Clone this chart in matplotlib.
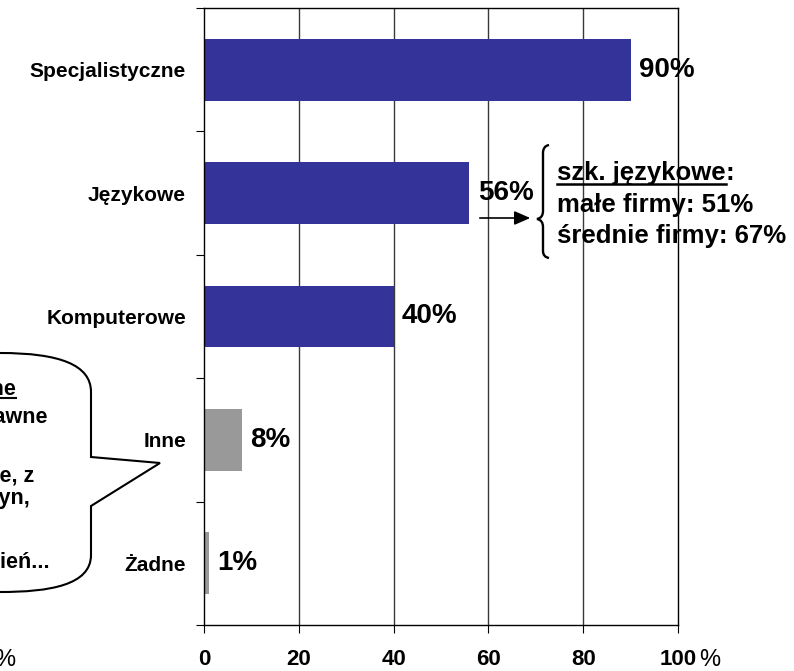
import matplotlib
matplotlib.use("Agg")
import matplotlib.pyplot as plt
from matplotlib.path import Path
from matplotlib.patches import PathPatch, FancyArrowPatch
from matplotlib.lines import Line2D

plt.rcParams['font.family'] = ['Liberation Sans', 'DejaVu Sans']

categories = ['Specjalistyczne', 'Językowe', 'Komputerowe', 'Inne', 'Żadne']
values = [90, 56, 40, 8, 1]
xticks = [0, 20, 40, 60, 80, 100]
note_title = 'szk. językowe'
note_lines = ['małe firmy: 51%', 'średnie firmy: 67%']
callout_lines = ['Szkolenia inne', 'prawne', 'BHP, księgowe, z', 'obsługi maszyn,', 'uzyskanie uprawnień...']

bar_colors = ['#333399', '#333399', '#333399', '#999999', '#999999']

W, H = 794, 671
fig = plt.figure(figsize=(W / 100, H / 100), dpi=100)
L, R, T, B = 204, 678, 8, 625
ax = fig.add_axes([L / W, 1 - B / H, (R - L) / W, (B - T) / H])

def fp(x, y):
    return (x / W, 1 - y / H)

ypos = list(range(len(categories)))
ax.barh(ypos, values, height=0.5, color=bar_colors, zorder=3)
ax.set_xlim(0, 100)
ax.set_ylim(len(categories) - 0.5, -0.5)
ax.set_xticks(xticks)
ax.set_xticklabels([str(t) for t in xticks], fontsize=16, fontweight='bold')
ax.set_yticks(ypos)
ax.set_yticklabels(categories, fontsize=15, fontweight='bold')
ax.set_yticks([i - 0.5 for i in range(len(categories) + 1)], minor=True)
ax.tick_params(axis='y', which='major', length=0, pad=13)
ax.tick_params(axis='y', which='minor', length=5.5, width=0.8, direction='out')
ax.tick_params(axis='x', which='major', length=6, width=0.8, direction='out', pad=11)
for t in xticks[1:-1]:
    ax.axvline(t, color='#3a3a3a', lw=1, zorder=1)
for s in ax.spines.values():
    s.set_color('black')
    s.set_linewidth(1.0)
    s.set_zorder(4)

for i, v in enumerate(values):
    ax.annotate(f'{v}%', xy=(v, i), xytext=(6, 0), textcoords='offset points',
                ha='left', va='center', fontsize=20, fontweight='bold', zorder=5)

# '%' unit labels
fig.text(*fp(699, 660), '%', ha='left', va='center', fontsize=17)
fig.text(*fp(15, 660), '%', ha='right', va='center', fontsize=17)

# arrow to the note
fig.add_artist(FancyArrowPatch(fp(477, 218), fp(533, 218), transform=fig.transFigure,
                               arrowstyle='-|>,head_length=0.8,head_width=0.35',
                               mutation_scale=12, color='black', lw=1.2))

# brace
bx = 543
bc = [Path.MOVETO, Path.CURVE3, Path.CURVE3, Path.LINETO,
      Path.CURVE3, Path.CURVE3, Path.LINETO,
      Path.CURVE3, Path.CURVE3, Path.CURVE3, Path.LINETO,
      Path.CURVE3, Path.CURVE3]
bv = [fp(bx + 6, 145), fp(bx, 146), fp(bx, 153),
      fp(bx, 211), fp(bx, 218), fp(bx - 6, 219),
      fp(bx - 6, 219),
      fp(bx, 220), fp(bx, 227), fp(bx, 227),
      fp(bx, 251), fp(bx, 257), fp(bx + 6, 258)]
fig.add_artist(PathPatch(Path(bv, bc), transform=fig.transFigure, fill=False, lw=1.7, color='black'))

# note text
t1 = fig.text(*fp(557, 180), note_title, ha='left', va='baseline', fontsize=18.5, fontweight='bold')
for k, line in enumerate(note_lines):
    fig.text(*fp(557, 212 + 31 * k), line, ha='left', va='baseline', fontsize=18.5, fontweight='bold')

# callout bubble
cv = [fp(-10, 353), fp(0, 353), fp(60, 353), fp(91, 365), fp(91, 392),
      fp(91, 457), fp(160, 463), fp(91, 506), fp(91, 555),
      fp(91, 585), fp(50, 592), fp(0, 592), fp(-10, 592)]
cc = [Path.MOVETO, Path.LINETO, Path.CURVE4, Path.CURVE4, Path.CURVE4,
      Path.LINETO, Path.LINETO, Path.LINETO, Path.LINETO,
      Path.CURVE4, Path.CURVE4, Path.CURVE4, Path.LINETO]
fig.add_artist(PathPatch(Path(cv, cc), transform=fig.transFigure, facecolor='white',
                         edgecolor='black', lw=1.5))

callout_pos = [(16, 395), (48, 423), (34, 482), (30, 504), (50, 568)]
c_texts = []
for line, (x, y) in zip(callout_lines, callout_pos):
    c_texts.append(fig.text(*fp(x, y), line, ha='right', va='baseline', fontsize=15.5,
                            fontweight='bold'))

# colon after note title, and underlines
fig.canvas.draw()
r = fig.canvas.get_renderer()
bb = t1.get_window_extent(r)
fig.text(bb.x1 / W, 1 - 180 / H, ':', ha='left', va='baseline', fontsize=18.5, fontweight='bold')
uy = bb.y0 + 1
fig.add_artist(Line2D([bb.x0 / W, bb.x1 / W], [uy / H, uy / H], transform=fig.transFigure,
                      color='black', lw=1.8))
bb2 = c_texts[0].get_window_extent(r)
uy2 = (H - 398) / H
fig.add_artist(Line2D([bb2.x0 / W, bb2.x1 / W], [uy2, uy2], transform=fig.transFigure,
                      color='black', lw=1.5))

fig.savefig('out.png', dpi=100)
